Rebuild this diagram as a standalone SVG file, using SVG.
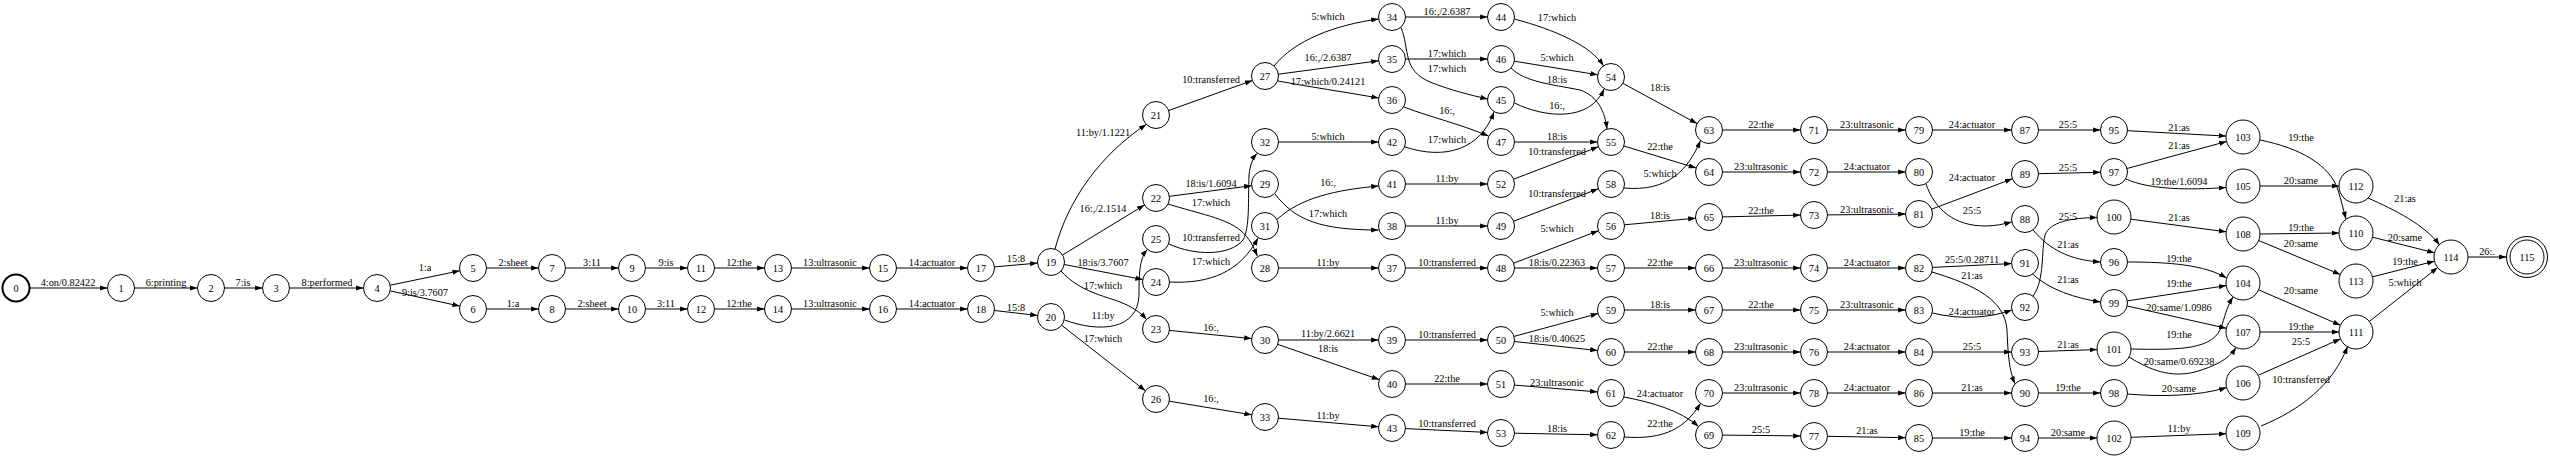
<svg xmlns="http://www.w3.org/2000/svg" width="2550" height="459" viewBox="0 0 2550 459">
<defs>
<marker id="a" markerUnits="userSpaceOnUse" markerWidth="8" markerHeight="6" refX="7.4" refY="2.6" orient="auto"><path d="M0,0 L7.4,2.6 L0,5.2 z" fill="#000"/></marker>
<style>
text{font-family:"Liberation Serif","Times New Roman",serif;font-size:10.3px;text-anchor:middle;fill:#000}
.nodes circle{fill:none;stroke:#000;stroke-width:1}
.edges path{fill:none;stroke:#000;stroke-width:1;marker-end:url(#a)}
</style>
</defs>
<rect width="2550" height="459" fill="#fff"/>
<g class="edges" id="connectors">
<path d="M29.5,288H107.5"/><text x="68" y="286">4:on/0.82422</text>
<path d="M134.5,288H197.5"/><text x="166" y="286">6:printing</text>
<path d="M224.5,288H262.5"/><text x="243" y="286">7:is</text>
<path d="M289.5,288H363.5"/><text x="327" y="286">8:performed</text>
<path d="M390.2,285.2L459.8,270.8"/><text x="425" y="271">1:a</text>
<path d="M390.2,290.9L459.8,306.1"/><text x="425" y="295.5">9:is/3.7607</text>
<path d="M486.5,268H538.5"/><text x="513" y="266">2:sheet</text>
<path d="M565.5,268H618.5"/><text x="592" y="266">3:11</text>
<path d="M645.5,268H687.5"/><text x="666" y="266">9:is</text>
<path d="M714.5,268H764.5"/><text x="739" y="266">12:the</text>
<path d="M791.5,268H869.5"/><text x="830" y="266">13:ultrasonic</text>
<path d="M896.5,268H967.5"/><text x="932" y="266">14:actuator</text>
<path d="M994.5,266.9L1037.5,263.1"/><text x="1016" y="261.5">15:8</text>
<path d="M486.5,309H538.5"/><text x="513" y="307">1:a</text>
<path d="M565.5,309H618.5"/><text x="592" y="307">2:sheet</text>
<path d="M645.5,309H687.5"/><text x="666" y="307">3:11</text>
<path d="M714.5,309H764.5"/><text x="739" y="307">12:the</text>
<path d="M791.5,309H869.5"/><text x="830" y="307">13:ultrasonic</text>
<path d="M896.5,309H967.5"/><text x="932" y="307">14:actuator</text>
<path d="M994.4,310.5L1037.6,315.5"/><text x="1016" y="310.5">15:8</text>
<path d="M1055,249C1068,200 1100,155 1146.3,124.4"/><text x="1103" y="135.5">11:by/1.1221</text>
<path d="M1062.5,255L1144.5,205"/><text x="1103" y="211.5">16:,/2.1514</text>
<path d="M1064.3,264.5L1142.7,279.5"/><text x="1103" y="265.5">18:is/3.7607</text>
<path d="M1061,271C1080,292 1105,296 1120,302C1133,307 1141,313 1146.5,319.5"/><text x="1103" y="288.5">17:which</text>
<path d="M1064.5,320C1100,333 1138,330 1139,295C1139,270 1140,258 1147.4,249.4"/><text x="1103" y="318.5">11:by</text>
<path d="M1061.7,325.3L1145.3,390.7"/><text x="1103" y="341.5">17:which</text>
<path d="M1168.7,110.5L1252.3,80.5"/><text x="1211" y="82.5">10:transferred</text>
<path d="M1169.4,196.3L1251.6,185.7"/><text x="1211" y="186.5">18:is/1.6094</text>
<path d="M1168,204C1200,214 1225,218 1240,230C1250,238 1254,248 1257.3,256"/><text x="1211" y="205.5">17:which</text>
<path d="M1169,244C1195,256 1230,256 1243,240C1250,228 1248,200 1249,175C1250,165 1253,158 1257,153.5"/><text x="1211" y="240.5">10:transferred</text>
<path d="M1169.5,282C1210,284 1240,272 1258,238"/><text x="1211" y="264.5">17:which</text>
<path d="M1169.4,330.4L1251.6,338.6"/><text x="1211" y="330.5">16:,</text>
<path d="M1169.3,401.2L1251.7,414.8"/><text x="1211" y="401.5">16:,</text>
<path d="M1274,66C1295,40 1335,25 1378.6,19"/><text x="1328" y="19.5">5:which</text>
<path d="M1278.4,74.2L1378.6,60.8"/><text x="1328" y="60.5">16:,/2.6387</text>
<path d="M1278,81C1310,87 1345,92 1378.7,98"/><text x="1328" y="84.5">17:which/0.24121</text>
<path d="M1278.5,142H1378.5"/><text x="1328" y="140">5:which</text>
<path d="M1277,219.5C1300,198 1335,190 1378.6,186"/><text x="1328" y="185.5">16:,</text>
<path d="M1275,194C1295,220 1320,230 1378.5,230"/><text x="1328" y="216.5">17:which</text>
<path d="M1278.5,268H1378.5"/><text x="1328" y="266">11:by</text>
<path d="M1278.5,340H1378.5"/><text x="1328" y="337">11:by/2.6621</text>
<path d="M1277.8,344.4L1379.2,379.6"/><text x="1328" y="351.5">18:is</text>
<path d="M1278.4,418.2L1378.6,426.8"/><text x="1328" y="418.5">11:by</text>
<path d="M1405.5,17H1487.5"/><text x="1447" y="15">16:,/2.6387</text>
<path d="M1401,27.5C1410,50 1402,70 1430,82C1450,90 1470,95 1487.7,99"/><text x="1447" y="71.5">17:which</text>
<path d="M1405.5,59H1487.5"/><text x="1447" y="57">17:which</text>
<path d="M1404,107C1430,117 1460,124 1488.5,136"/><text x="1447" y="113.5">16:,</text>
<path d="M1405,147C1445,160 1480,150 1494,112"/><text x="1447" y="142.5">17:which</text>
<path d="M1405.5,184H1487.5"/><text x="1447" y="182">11:by</text>
<path d="M1405.5,226H1487.5"/><text x="1447" y="224">11:by</text>
<path d="M1405.5,268H1487.5"/><text x="1447" y="266">10:transferred</text>
<path d="M1405.5,340H1487.5"/><text x="1447" y="338">10:transferred</text>
<path d="M1405.5,384H1487.5"/><text x="1447" y="382">22:the</text>
<path d="M1405.5,428.6L1487.5,432.4"/><text x="1447" y="426.5">10:transferred</text>
<path d="M1514.5,19C1555,30 1590,45 1603.5,65.8"/><text x="1557" y="20.5">17:which</text>
<path d="M1514.3,61.2L1597.7,74.8"/><text x="1557" y="60.5">5:which</text>
<path d="M1511,68C1525,82 1550,84 1580,90C1598,96 1605,112 1607,129"/><text x="1557" y="82.5">18:is</text>
<path d="M1514.5,103C1545,118 1590,122 1604,89"/><text x="1557" y="108.5">16:,</text>
<path d="M1514.5,142H1597.5"/><text x="1557" y="140">18:is</text>
<path d="M1513.6,179.2L1598.4,146.8"/><text x="1557" y="154.5">10:transferred</text>
<path d="M1513.6,221.2L1598.4,188.8"/><text x="1557" y="196.5">10:transferred</text>
<path d="M1513.6,263.2L1598.4,230.8"/><text x="1557" y="231.5">5:which</text>
<path d="M1514.5,268H1597.5"/><text x="1557" y="266">18:is/0.22363</text>
<path d="M1514,336.4L1598,313.6"/><text x="1557" y="315.5">5:which</text>
<path d="M1514.4,341.5L1597.6,350.5"/><text x="1557" y="341.5">18:is/0.40625</text>
<path d="M1514.5,385.1L1597.5,391.9"/><text x="1557" y="385.5">23:ultrasonic</text>
<path d="M1514.5,433.2L1597.5,434.8"/><text x="1557" y="431.5">18:is</text>
<path d="M1622.9,83.4L1697.1,123.6"/><text x="1660" y="90.5">18:is</text>
<path d="M1623.9,146L1696.1,168"/><text x="1660" y="149.5">22:the</text>
<path d="M1624,188C1668,192 1688,170 1700.5,140.5"/><text x="1660" y="176.5">5:which</text>
<path d="M1624.4,224.8L1695.6,218.2"/><text x="1660" y="218.5">18:is</text>
<path d="M1624.5,268H1695.5"/><text x="1660" y="266">22:the</text>
<path d="M1624.5,310H1695.5"/><text x="1660" y="308">18:is</text>
<path d="M1624.5,352H1695.5"/><text x="1660" y="350">22:the</text>
<path d="M1624,397C1650,402 1680,410 1698.5,426.5"/><text x="1660" y="396.5">24:actuator</text>
<path d="M1624,437C1665,440 1685,428 1700.5,403.5"/><text x="1660" y="426.5">22:the</text>
<path d="M1722.5,130H1800.5"/><text x="1761" y="128">22:the</text>
<path d="M1722.5,172H1800.5"/><text x="1761" y="170">23:ultrasonic</text>
<path d="M1722.5,216.9L1800.5,215.1"/><text x="1761" y="213.5">22:the</text>
<path d="M1722.5,268H1800.5"/><text x="1761" y="266">23:ultrasonic</text>
<path d="M1722.5,310H1800.5"/><text x="1761" y="308">22:the</text>
<path d="M1722.5,352H1800.5"/><text x="1761" y="350">23:ultrasonic</text>
<path d="M1722.5,393H1800.5"/><text x="1761" y="391">23:ultrasonic</text>
<path d="M1722.5,435.1L1800.5,435.9"/><text x="1761" y="433">25:5</text>
<path d="M1827.5,130H1905.5"/><text x="1867" y="128">23:ultrasonic</text>
<path d="M1827.5,172H1905.5"/><text x="1867" y="170">24:actuator</text>
<path d="M1827.5,214.9L1905.5,214.1"/><text x="1867" y="212.5">23:ultrasonic</text>
<path d="M1827.5,268H1905.5"/><text x="1867" y="266">24:actuator</text>
<path d="M1827.5,310H1905.5"/><text x="1867" y="308">23:ultrasonic</text>
<path d="M1827.5,352H1905.5"/><text x="1867" y="350">24:actuator</text>
<path d="M1827.5,393H1905.5"/><text x="1867" y="391">24:actuator</text>
<path d="M1827.5,436.3L1905.5,437.7"/><text x="1867" y="434">21:as</text>
<path d="M1932.5,130H2011.5"/><text x="1972" y="128">24:actuator</text>
<path d="M1931.6,209.2L2012.4,178.8"/><text x="1972" y="180.5">24:actuator</text>
<path d="M1926,184C1935,210 1955,226 1985,226C1995,226 2004,224 2011.7,222"/><text x="1972" y="213.5">25:5</text>
<path d="M1932.5,267.4L2011.5,263.6"/><text x="1972" y="262.5">25:5/0.28711</text>
<path d="M1932,272C1975,285 2005,300 2007,330C2008,355 2009,370 2015,383.8"/><text x="1972" y="278.5">21:as</text>
<path d="M1932.5,313C1960,320 1990,318 2011.8,310"/><text x="1972" y="314.5">24:actuator</text>
<path d="M1932.5,352H2011.5"/><text x="1972" y="350">25:5</text>
<path d="M1932.5,393H2011.5"/><text x="1972" y="391">21:as</text>
<path d="M1932.5,438H2011.5"/><text x="1972" y="436">19:the</text>
<path d="M2038.5,130H2100.5"/><text x="2068" y="128">25:5</text>
<path d="M2038.5,173.7L2100.5,172.3"/><text x="2068" y="171">25:5</text>
<path d="M2033,230C2050,250 2070,260 2100.5,262"/><text x="2068" y="247.5">21:as</text>
<path d="M2033,296C2045,280 2041,250 2045,235C2050,222 2070,218 2097.2,217.5"/><text x="2068" y="219.5">25:5</text>
<path d="M2032.5,274C2050,290 2075,298 2100.5,302"/><text x="2068" y="282.5">21:as</text>
<path d="M2038.5,351.5L2097,349.6"/><text x="2068" y="347.5">21:as</text>
<path d="M2038.5,393H2100.5"/><text x="2068" y="391">19:the</text>
<path d="M2038.5,438H2097"/><text x="2068" y="436">20:same</text>
<path d="M2127.5,130.7L2226,136.1"/><text x="2179" y="131">21:as</text>
<path d="M2127,168.5L2226.6,141.5"/><text x="2179" y="148.5">21:as</text>
<path d="M2126,179C2150,190 2190,190 2226,187.5"/><text x="2179" y="184.5">19:the/1.6094</text>
<path d="M2130.9,219.2L2226.1,231.8"/><text x="2179" y="220.5">21:as</text>
<path d="M2127.5,262C2170,262 2205,265 2226.5,278"/><text x="2179" y="261.5">19:the</text>
<path d="M2127.3,300.9L2226.2,285.6"/><text x="2179" y="286.5">19:the</text>
<path d="M2127.2,306L2226.4,328.3"/><text x="2179" y="310.5">20:same/1.0986</text>
<path d="M2131,349C2180,350 2215,350 2222,325C2226,312 2228,305 2233,297"/><text x="2179" y="337.5">19:the</text>
<path d="M2129,357C2150,370 2170,378 2195,372C2215,366 2228,360 2236,347.5"/><text x="2179" y="364.5">20:same/0.69238</text>
<path d="M2127.5,394C2160,397 2200,396 2226.5,387.5"/><text x="2179" y="391.5">20:same</text>
<path d="M2131,437.3L2226,433.7"/><text x="2179" y="431.5">11:by</text>
<path d="M2260,140C2300,148 2330,165 2338,190C2341,200 2343,208 2346,219"/><text x="2301" y="140.5">19:the</text>
<path d="M2260,186H2339"/><text x="2301" y="184">20:same</text>
<path d="M2260,234L2339,233"/><text x="2301" y="231">19:the</text>
<path d="M2258.7,240.5L2340.3,274.5"/><text x="2301" y="246.5">20:same</text>
<path d="M2258.6,289.8L2340.4,325.2"/><text x="2301" y="293.5">20:same</text>
<path d="M2260,332H2339"/><text x="2301" y="330">19:the</text>
<path d="M2258.5,375.1L2340.5,338.9"/><text x="2301" y="344.5">25:5</text>
<path d="M2261,426C2300,410 2333,385 2347.5,346.5"/><text x="2301" y="382.5">10:transferred</text>
<path d="M2368,198C2395,210 2425,225 2439.5,245"/><text x="2405" y="201.5">21:as</text>
<path d="M2372.5,237.2L2434.5,252.8"/><text x="2405" y="240.5">20:same</text>
<path d="M2372.5,276.8L2434.5,261.2"/><text x="2405" y="264.5">19:the</text>
<path d="M2369.3,321.5L2437.7,267.5"/><text x="2405" y="285.5">5:which</text>
<path d="M2468,257H2506.5"/><text x="2487" y="255">26:.</text>
</g>
<g class="nodes">
<g id="n0"><circle cx="16" cy="288" r="13.5" style="stroke-width:2"/><text x="16" y="291.5">0</text></g>
<g id="n1"><circle cx="121" cy="288" r="13.5"/><text x="121" y="291.5">1</text></g>
<g id="n2"><circle cx="211" cy="288" r="13.5"/><text x="211" y="291.5">2</text></g>
<g id="n3"><circle cx="276" cy="288" r="13.5"/><text x="276" y="291.5">3</text></g>
<g id="n4"><circle cx="377" cy="288" r="13.5"/><text x="377" y="291.5">4</text></g>
<g id="n5"><circle cx="473" cy="268" r="13.5"/><text x="473" y="271.5">5</text></g>
<g id="n6"><circle cx="473" cy="309" r="13.5"/><text x="473" y="312.5">6</text></g>
<g id="n7"><circle cx="552" cy="268" r="13.5"/><text x="552" y="271.5">7</text></g>
<g id="n8"><circle cx="552" cy="309" r="13.5"/><text x="552" y="312.5">8</text></g>
<g id="n9"><circle cx="632" cy="268" r="13.5"/><text x="632" y="271.5">9</text></g>
<g id="n10"><circle cx="632" cy="309" r="13.5"/><text x="632" y="312.5">10</text></g>
<g id="n11"><circle cx="701" cy="268" r="13.5"/><text x="701" y="271.5">11</text></g>
<g id="n12"><circle cx="701" cy="309" r="13.5"/><text x="701" y="312.5">12</text></g>
<g id="n13"><circle cx="778" cy="268" r="13.5"/><text x="778" y="271.5">13</text></g>
<g id="n14"><circle cx="778" cy="309" r="13.5"/><text x="778" y="312.5">14</text></g>
<g id="n15"><circle cx="883" cy="268" r="13.5"/><text x="883" y="271.5">15</text></g>
<g id="n16"><circle cx="883" cy="309" r="13.5"/><text x="883" y="312.5">16</text></g>
<g id="n17"><circle cx="981" cy="268" r="13.5"/><text x="981" y="271.5">17</text></g>
<g id="n18"><circle cx="981" cy="309" r="13.5"/><text x="981" y="312.5">18</text></g>
<g id="n19"><circle cx="1051" cy="262" r="13.5"/><text x="1051" y="265.5">19</text></g>
<g id="n20"><circle cx="1051" cy="317" r="13.5"/><text x="1051" y="320.5">20</text></g>
<g id="n21"><circle cx="1156" cy="115" r="13.5"/><text x="1156" y="118.5">21</text></g>
<g id="n22"><circle cx="1156" cy="198" r="13.5"/><text x="1156" y="201.5">22</text></g>
<g id="n25"><circle cx="1156" cy="239" r="13.5"/><text x="1156" y="242.5">25</text></g>
<g id="n24"><circle cx="1156" cy="282" r="13.5"/><text x="1156" y="285.5">24</text></g>
<g id="n23"><circle cx="1156" cy="329" r="13.5"/><text x="1156" y="332.5">23</text></g>
<g id="n26"><circle cx="1156" cy="399" r="13.5"/><text x="1156" y="402.5">26</text></g>
<g id="n27"><circle cx="1265" cy="76" r="13.5"/><text x="1265" y="79.5">27</text></g>
<g id="n32"><circle cx="1265" cy="142" r="13.5"/><text x="1265" y="145.5">32</text></g>
<g id="n29"><circle cx="1265" cy="184" r="13.5"/><text x="1265" y="187.5">29</text></g>
<g id="n31"><circle cx="1265" cy="226" r="13.5"/><text x="1265" y="229.5">31</text></g>
<g id="n28"><circle cx="1265" cy="268" r="13.5"/><text x="1265" y="271.5">28</text></g>
<g id="n30"><circle cx="1265" cy="340" r="13.5"/><text x="1265" y="343.5">30</text></g>
<g id="n33"><circle cx="1265" cy="417" r="13.5"/><text x="1265" y="420.5">33</text></g>
<g id="n34"><circle cx="1392" cy="17" r="13.5"/><text x="1392" y="20.5">34</text></g>
<g id="n35"><circle cx="1392" cy="59" r="13.5"/><text x="1392" y="62.5">35</text></g>
<g id="n36"><circle cx="1392" cy="100" r="13.5"/><text x="1392" y="103.5">36</text></g>
<g id="n42"><circle cx="1392" cy="142" r="13.5"/><text x="1392" y="145.5">42</text></g>
<g id="n41"><circle cx="1392" cy="184" r="13.5"/><text x="1392" y="187.5">41</text></g>
<g id="n38"><circle cx="1392" cy="226" r="13.5"/><text x="1392" y="229.5">38</text></g>
<g id="n37"><circle cx="1392" cy="268" r="13.5"/><text x="1392" y="271.5">37</text></g>
<g id="n39"><circle cx="1392" cy="340" r="13.5"/><text x="1392" y="343.5">39</text></g>
<g id="n40"><circle cx="1392" cy="384" r="13.5"/><text x="1392" y="387.5">40</text></g>
<g id="n43"><circle cx="1392" cy="428" r="13.5"/><text x="1392" y="431.5">43</text></g>
<g id="n44"><circle cx="1501" cy="17" r="13.5"/><text x="1501" y="20.5">44</text></g>
<g id="n46"><circle cx="1501" cy="59" r="13.5"/><text x="1501" y="62.5">46</text></g>
<g id="n45"><circle cx="1501" cy="100" r="13.5"/><text x="1501" y="103.5">45</text></g>
<g id="n47"><circle cx="1501" cy="142" r="13.5"/><text x="1501" y="145.5">47</text></g>
<g id="n52"><circle cx="1501" cy="184" r="13.5"/><text x="1501" y="187.5">52</text></g>
<g id="n49"><circle cx="1501" cy="226" r="13.5"/><text x="1501" y="229.5">49</text></g>
<g id="n48"><circle cx="1501" cy="268" r="13.5"/><text x="1501" y="271.5">48</text></g>
<g id="n50"><circle cx="1501" cy="340" r="13.5"/><text x="1501" y="343.5">50</text></g>
<g id="n51"><circle cx="1501" cy="384" r="13.5"/><text x="1501" y="387.5">51</text></g>
<g id="n53"><circle cx="1501" cy="433" r="13.5"/><text x="1501" y="436.5">53</text></g>
<g id="n54"><circle cx="1611" cy="77" r="13.5"/><text x="1611" y="80.5">54</text></g>
<g id="n55"><circle cx="1611" cy="142" r="13.5"/><text x="1611" y="145.5">55</text></g>
<g id="n58"><circle cx="1611" cy="184" r="13.5"/><text x="1611" y="187.5">58</text></g>
<g id="n56"><circle cx="1611" cy="226" r="13.5"/><text x="1611" y="229.5">56</text></g>
<g id="n57"><circle cx="1611" cy="268" r="13.5"/><text x="1611" y="271.5">57</text></g>
<g id="n59"><circle cx="1611" cy="310" r="13.5"/><text x="1611" y="313.5">59</text></g>
<g id="n60"><circle cx="1611" cy="352" r="13.5"/><text x="1611" y="355.5">60</text></g>
<g id="n61"><circle cx="1611" cy="393" r="13.5"/><text x="1611" y="396.5">61</text></g>
<g id="n62"><circle cx="1611" cy="435" r="13.5"/><text x="1611" y="438.5">62</text></g>
<g id="n63"><circle cx="1709" cy="130" r="13.5"/><text x="1709" y="133.5">63</text></g>
<g id="n64"><circle cx="1709" cy="172" r="13.5"/><text x="1709" y="175.5">64</text></g>
<g id="n65"><circle cx="1709" cy="217" r="13.5"/><text x="1709" y="220.5">65</text></g>
<g id="n66"><circle cx="1709" cy="268" r="13.5"/><text x="1709" y="271.5">66</text></g>
<g id="n67"><circle cx="1709" cy="310" r="13.5"/><text x="1709" y="313.5">67</text></g>
<g id="n68"><circle cx="1709" cy="352" r="13.5"/><text x="1709" y="355.5">68</text></g>
<g id="n70"><circle cx="1709" cy="393" r="13.5"/><text x="1709" y="396.5">70</text></g>
<g id="n69"><circle cx="1709" cy="435" r="13.5"/><text x="1709" y="438.5">69</text></g>
<g id="n71"><circle cx="1814" cy="130" r="13.5"/><text x="1814" y="133.5">71</text></g>
<g id="n72"><circle cx="1814" cy="172" r="13.5"/><text x="1814" y="175.5">72</text></g>
<g id="n73"><circle cx="1814" cy="215" r="13.5"/><text x="1814" y="218.5">73</text></g>
<g id="n74"><circle cx="1814" cy="268" r="13.5"/><text x="1814" y="271.5">74</text></g>
<g id="n75"><circle cx="1814" cy="310" r="13.5"/><text x="1814" y="313.5">75</text></g>
<g id="n76"><circle cx="1814" cy="352" r="13.5"/><text x="1814" y="355.5">76</text></g>
<g id="n78"><circle cx="1814" cy="393" r="13.5"/><text x="1814" y="396.5">78</text></g>
<g id="n77"><circle cx="1814" cy="436" r="13.5"/><text x="1814" y="439.5">77</text></g>
<g id="n79"><circle cx="1919" cy="130" r="13.5"/><text x="1919" y="133.5">79</text></g>
<g id="n80"><circle cx="1919" cy="172" r="13.5"/><text x="1919" y="175.5">80</text></g>
<g id="n81"><circle cx="1919" cy="214" r="13.5"/><text x="1919" y="217.5">81</text></g>
<g id="n82"><circle cx="1919" cy="268" r="13.5"/><text x="1919" y="271.5">82</text></g>
<g id="n83"><circle cx="1919" cy="310" r="13.5"/><text x="1919" y="313.5">83</text></g>
<g id="n84"><circle cx="1919" cy="352" r="13.5"/><text x="1919" y="355.5">84</text></g>
<g id="n86"><circle cx="1919" cy="393" r="13.5"/><text x="1919" y="396.5">86</text></g>
<g id="n85"><circle cx="1919" cy="438" r="13.5"/><text x="1919" y="441.5">85</text></g>
<g id="n87"><circle cx="2025" cy="130" r="13.5"/><text x="2025" y="133.5">87</text></g>
<g id="n89"><circle cx="2025" cy="174" r="13.5"/><text x="2025" y="177.5">89</text></g>
<g id="n88"><circle cx="2025" cy="219" r="13.5"/><text x="2025" y="222.5">88</text></g>
<g id="n91"><circle cx="2025" cy="263" r="13.5"/><text x="2025" y="266.5">91</text></g>
<g id="n92"><circle cx="2025" cy="307" r="13.5"/><text x="2025" y="310.5">92</text></g>
<g id="n93"><circle cx="2025" cy="352" r="13.5"/><text x="2025" y="355.5">93</text></g>
<g id="n90"><circle cx="2025" cy="393" r="13.5"/><text x="2025" y="396.5">90</text></g>
<g id="n94"><circle cx="2025" cy="438" r="13.5"/><text x="2025" y="441.5">94</text></g>
<g id="n95"><circle cx="2114" cy="130" r="13.5"/><text x="2114" y="133.5">95</text></g>
<g id="n97"><circle cx="2114" cy="172" r="13.5"/><text x="2114" y="175.5">97</text></g>
<g id="n100"><circle cx="2114" cy="217" r="17"/><text x="2114" y="220.5">100</text></g>
<g id="n96"><circle cx="2114" cy="262" r="13.5"/><text x="2114" y="265.5">96</text></g>
<g id="n99"><circle cx="2114" cy="303" r="13.5"/><text x="2114" y="306.5">99</text></g>
<g id="n101"><circle cx="2114" cy="349" r="17"/><text x="2114" y="352.5">101</text></g>
<g id="n98"><circle cx="2114" cy="393" r="13.5"/><text x="2114" y="396.5">98</text></g>
<g id="n102"><circle cx="2114" cy="438" r="17"/><text x="2114" y="441.5">102</text></g>
<g id="n103"><circle cx="2243" cy="137" r="17"/><text x="2243" y="140.5">103</text></g>
<g id="n105"><circle cx="2243" cy="186" r="17"/><text x="2243" y="189.5">105</text></g>
<g id="n108"><circle cx="2243" cy="234" r="17"/><text x="2243" y="237.5">108</text></g>
<g id="n104"><circle cx="2243" cy="283" r="17"/><text x="2243" y="286.5">104</text></g>
<g id="n107"><circle cx="2243" cy="332" r="17"/><text x="2243" y="335.5">107</text></g>
<g id="n106"><circle cx="2243" cy="383" r="17"/><text x="2243" y="386.5">106</text></g>
<g id="n109"><circle cx="2243" cy="433" r="17"/><text x="2243" y="436.5">109</text></g>
<g id="n112"><circle cx="2356" cy="186" r="17"/><text x="2356" y="189.5">112</text></g>
<g id="n110"><circle cx="2356" cy="233" r="17"/><text x="2356" y="236.5">110</text></g>
<g id="n113"><circle cx="2356" cy="281" r="17"/><text x="2356" y="284.5">113</text></g>
<g id="n111"><circle cx="2356" cy="332" r="17"/><text x="2356" y="335.5">111</text></g>
<g id="n114"><circle cx="2451" cy="257" r="17"/><text x="2451" y="260.5">114</text></g>
<g id="n115"><circle cx="2527" cy="257" r="20.5"/><circle cx="2527" cy="257" r="17"/><text x="2527" y="260.5">115</text></g>
</g>
</svg>
